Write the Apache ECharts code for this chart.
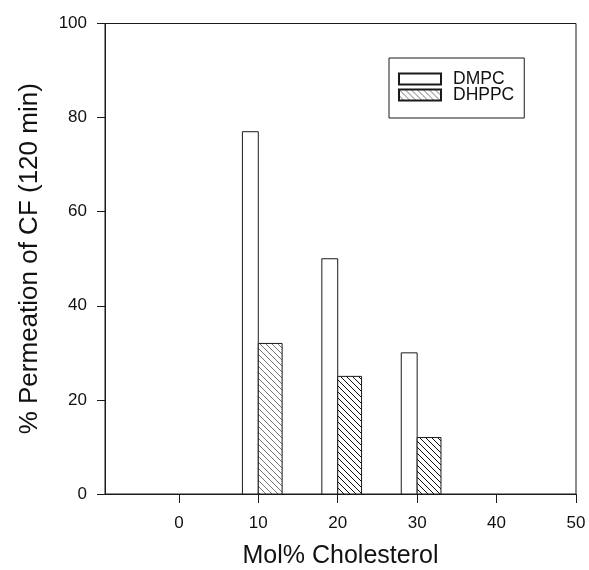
<!DOCTYPE html>
<html>
<head>
<meta charset="utf-8">
<script src="https://cdn.jsdelivr.net/npm/echarts@6/dist/echarts.min.js"></script>
<style>
  html, body { margin: 0; padding: 0; background: #fff; }
  #chart { width: 589px; height: 570px; }
</style>
</head>
<body>
<div id="chart"></div>
<script>
// Mol% cholesterol where bars are drawn
var cholesterol = [10, 20, 30];
var dmpc = [77, 50, 30];
var dhppc = [32, 25, 12];
var xTicks = [0, 10, 20, 30, 40, 50];
var seriesNames = ['DMPC', 'DHPPC'];

var lineColor = '#1a1a1a';
var fontFam = '"Liberation Sans", Arial, sans-serif';

// hatch pattern ( \\\ lines )
function makeHatch(color, width) {
  var s = 6;
  var c = document.createElement('canvas');
  c.width = s; c.height = s;
  var ctx = c.getContext('2d');
  ctx.fillStyle = '#fff';
  ctx.fillRect(0, 0, s, s);
  ctx.strokeStyle = color;
  ctx.lineWidth = width;
  ctx.beginPath();
  ctx.moveTo(0, 0); ctx.lineTo(s, s);
  ctx.moveTo(-1, s - 1); ctx.lineTo(1, s + 1);
  ctx.moveTo(s - 1, -1); ctx.lineTo(s + 1, 1);
  ctx.stroke();
  return { image: c, repeat: 'repeat' };
}
var hatchLight = makeHatch('#777', 1);
var hatchDark = makeHatch('#111', 1);

// bar sits between x+from and x+to (in axis units)
function barRenderer(from, to, fills) {
  return function (params, api) {
    var x = api.value(0), v = api.value(1);
    var p0 = api.coord([x + from, v]);
    var p1 = api.coord([x + to, 0]);
    var fill = fills ? fills[params.dataIndex] : '#fff';
    return {
      type: 'rect',
      shape: { x: p0[0], y: p0[1], width: p1[0] - p0[0], height: p1[1] - p0[1] },
      style: { fill: fill, stroke: lineColor, lineWidth: 1 }
    };
  };
}

var chart = echarts.init(document.getElementById('chart'));
chart.setOption({
  animation: false,
  grid: {
    left: 105, right: 13, top: 23.5, bottom: 76,
    containLabel: false, outerBoundsMode: 'none',
    show: true, borderColor: lineColor, borderWidth: 1, backgroundColor: 'transparent'
  },
  legend: {
    data: seriesNames,
    left: 389, top: 58,
    orient: 'vertical',
    icon: 'rect',
    itemWidth: 42, itemHeight: 11, itemGap: -2,
    padding: [12, 10, 14, 9],
    borderColor: lineColor, borderWidth: 1,
    selectedMode: false,
    textStyle: { fontFamily: fontFam, fontSize: 17.5, color: '#111', padding: [0, 0, 0, 7] }
  },
  xAxis: {
    type: 'value',
    min: -9.3, max: 50,
    name: 'Mol% Cholesterol',
    nameLocation: 'middle',
    nameGap: 50,
    nameTextStyle: { fontFamily: fontFam, fontSize: 25, color: '#111' },
    axisLine: { show: true, onZero: false, lineStyle: { color: lineColor, width: 1 } },
    axisTick: { show: true, inside: false, length: 9, customValues: xTicks, lineStyle: { color: lineColor } },
    axisLabel: { customValues: xTicks, margin: 21, fontFamily: fontFam, fontSize: 17, color: '#111' },
    splitLine: { show: false }
  },
  yAxis: {
    type: 'value',
    min: 0, max: 100, interval: 20,
    name: '% Permeation of CF (120 min)',
    nameLocation: 'middle',
    nameGap: 62,
    nameTextStyle: { fontFamily: fontFam, fontSize: 26, color: '#111' },
    axisLine: { show: true, onZero: false, lineStyle: { color: lineColor, width: 1 } },
    axisTick: { show: true, inside: false, length: 8, lineStyle: { color: lineColor } },
    axisLabel: { margin: 18, fontFamily: fontFam, fontSize: 17, color: '#111' },
    splitLine: { show: false }
  },
  series: [
    {
      name: seriesNames[0],
      type: 'custom',
      itemStyle: { color: '#fff', borderColor: lineColor, borderWidth: 1 },
      encode: { x: 0, y: 1 },
      renderItem: barRenderer(-2, 0, null),
      data: cholesterol.map(function (c, i) { return [c, dmpc[i]]; })
    },
    {
      name: seriesNames[1],
      type: 'custom',
      itemStyle: { color: hatchLight, borderColor: lineColor, borderWidth: 1 },
      encode: { x: 0, y: 1 },
      renderItem: barRenderer(0, 3, [hatchLight, hatchDark, hatchDark]),
      data: cholesterol.map(function (c, i) { return [c, dhppc[i]]; })
    }
  ]
});
</script>
</body>
</html>
